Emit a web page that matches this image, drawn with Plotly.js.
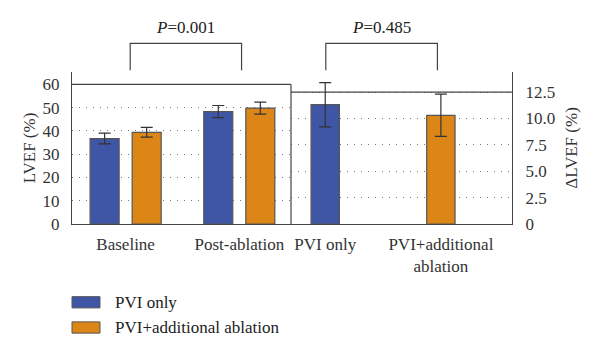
<!DOCTYPE html>
<html>
<head>
<meta charset="utf-8">
<script src="https://cdn.plot.ly/plotly-3.0.1.min.js"></script>
<style>html,body{margin:0;padding:0;background:#fff;}#chart{width:600px;height:355px;}</style>
</head>
<body>
<div id="chart"></div>
<script>
// ---- data ----
const groups = ["Baseline", "Post-ablation"];
const seriesNames = ["PVI only", "PVI+additional ablation"];
const pviOnlyLVEF = [36.7, 48.3];
const pviOnlyLVEFErr = [2.3, 2.6];
const pviAddLVEF = [39.4, 49.8];
const pviAddLVEFErr = [2.1, 2.6];
const deltaCats = ["PVI only", "PVI+additional ablation"];
const deltaTickText = ["PVI only", "PVI+additional<br>ablation"];
const deltaLVEF = [11.3, 10.3];
const deltaLVEFErr = [2.1, 2.0];
const pLabels = ["P=0.001", "P=0.485"];
const leftTicks = [0, 10, 20, 30, 40, 50, 60];
const rightTicks = [0, 2.5, 5, 7.5, 10, 12.5];
const rightTickText = ["0", "2.5", "5.0", "7.5", "10.0", "12.5"];

// ---- style ----
const BLUE = "#3f56a6", ORANGE = "#dc8618", EDGE = "#555555", AX = "#444444";
const FONT = "Liberation Serif, DejaVu Serif, serif";
const FS = 17;
const split = 219 / 440;

const errStyle = {type: "data", color: "#333", thickness: 1.2, width: 6};

const traces = [
  {type: "bar", x: groups, y: pviOnlyLVEF, name: seriesNames[0], xaxis: "x", yaxis: "y",
   marker: {color: BLUE, line: {color: EDGE, width: 1.2}},
   error_y: Object.assign({array: pviOnlyLVEFErr}, errStyle), showlegend: false, hoverinfo: "none"},
  {type: "bar", x: groups, y: pviAddLVEF, name: seriesNames[1], xaxis: "x", yaxis: "y",
   marker: {color: ORANGE, line: {color: EDGE, width: 1.2}},
   error_y: Object.assign({array: pviAddLVEFErr}, errStyle), showlegend: false, hoverinfo: "none"},
  {type: "bar", x: deltaCats, y: deltaLVEF, name: "ΔLVEF", xaxis: "x2", yaxis: "y2", width: 0.245,
   marker: {color: [BLUE, ORANGE], line: {color: EDGE, width: 1.2}},
   error_y: Object.assign({array: deltaLVEFErr}, errStyle), showlegend: false, hoverinfo: "none"}
];

const gridDash = "1px,6px";
const tickFont = {family: FONT, size: FS, color: "#333"};

const shapes = [
  // panel frame lines
  {type: "line", xref: "paper", yref: "y", x0: 0, x1: split, y0: leftTicks[leftTicks.length - 1], y1: leftTicks[leftTicks.length - 1], line: {color: AX, width: 1.2}},
  {type: "line", xref: "paper", yref: "y2", x0: split, x1: 1, y0: rightTicks[rightTicks.length - 1], y1: rightTicks[rightTicks.length - 1], line: {color: AX, width: 1.2}},
  {type: "line", xref: "paper", yref: "y", x0: split, x1: split, y0: 0, y1: leftTicks[leftTicks.length - 1], line: {color: AX, width: 1.2}}
];
const annotations = [];

// significance brackets
const yTop = 1.188, yBot = 1.011, yTxt = 1.291;
[["x", 0.04, 1.02, pLabels[0]], ["x2", 0.005, 0.97, pLabels[1]]].forEach(function (b) {
  const xr = b[0], a = b[1], c = b[2];
  shapes.push({type: "path", xref: xr, yref: "paper",
    path: "M" + a + "," + yBot + " L" + a + "," + yTop + " L" + c + "," + yTop + " L" + c + "," + yBot,
    line: {color: AX, width: 1.2}});
  const parts = b[3].split("=");
  annotations.push({xref: xr, yref: "paper", x: (a + c) / 2, y: yTxt, yanchor: "middle", showarrow: false,
    text: "<i>" + parts[0] + "</i>=" + parts[1], font: {family: FONT, size: FS, color: "#222"}});
});

// legend (custom swatches)
const legColors = [BLUE, ORANGE];
const legY = [-0.515, -0.681];
seriesNames.forEach(function (n, i) {
  shapes.push({type: "rect", xref: "paper", yref: "paper", x0: 0, x1: 0.0636,
    y0: legY[i] - 0.037, y1: legY[i] + 0.037, fillcolor: legColors[i], line: {color: EDGE, width: 1}});
  annotations.push({xref: "paper", yref: "paper", x: 0.0925, y: legY[i], xanchor: "left", yanchor: "middle",
    showarrow: false, text: n, font: {family: FONT, size: FS, color: "#222"}});
});

const layout = {
  width: 600, height: 355,
  margin: {l: 72, r: 88, t: 72, b: 131, pad: 0},
  paper_bgcolor: "#fff", plot_bgcolor: "rgba(0,0,0,0)",
  font: {family: FONT, size: FS, color: "#333"},
  barmode: "group", bargap: 0.26, bargroupgap: 0.31,
  showlegend: false,
  xaxis: {domain: [0, split], range: [-0.472, 1.455], type: "category", anchor: "y",
    showline: true, linecolor: AX, linewidth: 1.2, showgrid: false, ticks: "",
    tickfont: tickFont, ticklabelstandoff: 4, fixedrange: true},
  xaxis2: {domain: [split, 1], range: [-0.296, 1.615], type: "category", anchor: "y2",
    tickvals: deltaCats, ticktext: deltaTickText,
    showline: true, linecolor: AX, linewidth: 1.2, showgrid: false, ticks: "",
    tickfont: tickFont, ticklabelstandoff: 4, fixedrange: true},
  yaxis: {domain: [0, 1], range: [0, 65.3], anchor: "x", tickvals: leftTicks,
    showline: true, linecolor: AX, linewidth: 1.2, zeroline: false,
    showgrid: true, gridcolor: "#777", griddash: gridDash, gridwidth: 1,
    ticks: "", tickfont: tickFont, ticklabelstandoff: 8,
    title: {text: "LVEF (%)", font: {family: FONT, size: FS, color: "#333"}, standoff: 2}},
  yaxis2: {domain: [0, 1], range: [0, 14.4], anchor: "x2", side: "right", tickvals: rightTicks, ticktext: rightTickText,
    showline: true, linecolor: AX, linewidth: 1.2, zeroline: false,
    showgrid: true, gridcolor: "#777", griddash: gridDash, gridwidth: 1,
    ticks: "", tickfont: tickFont, ticklabelstandoff: 9,
    title: {text: "ΔLVEF (%)", font: {family: FONT, size: FS, color: "#333"}, standoff: 10}},
  shapes: shapes,
  annotations: annotations
};

Plotly.newPlot("chart", traces, layout, {staticPlot: true, displayModeBar: false});
</script>
</body>
</html>
